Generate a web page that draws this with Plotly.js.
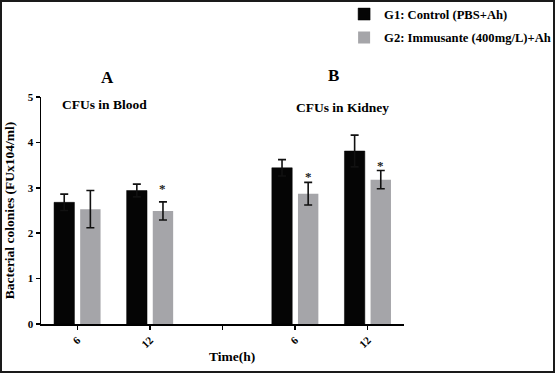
<!DOCTYPE html>
<html>
<head>
<meta charset="utf-8">
<script src="https://cdn.plot.ly/plotly-3.0.1.min.js"></script>
<style>
  html, body { margin: 0; padding: 0; background: #fff; }
  #wrap { width: 555px; height: 373px; box-sizing: border-box; border: 2px solid #1a1a1a; }
  #chart { width: 551px; height: 369px; }
</style>
</head>
<body>
<div id="wrap"><div id="chart"></div></div>
<script>
// Category positions (0,1 = Blood 6h,12h; 2 = spacer; 3,4 = Kidney 6h,12h)
const positions = [0, 1, 3, 4];
const tickPositions = [0, 1, 2, 3, 4];
const tickLabels = ['6', '12', '', '6', '12'];

const g1Name = 'G1: Control (PBS+Ah)';
const g1Values = [2.68, 2.94, 3.44, 3.81];
const g1Errors = [0.18, 0.14, 0.18, 0.35];

const g2Name = 'G2: Immusante (400mg/L)+Ah';
const g2Values = [2.53, 2.49, 2.87, 3.18];
const g2Errors = [0.41, 0.20, 0.25, 0.20];

// Significance markers ("*") on G2 bars, with the height they are drawn at
const g2Significant = [false, true, true, true];
const g2StarHeights = [null, 3.05, 3.31, 3.55];

const panelLabels = ['A', 'B'];
const panelTitles = ['CFUs in Blood', 'CFUs in Kidney'];

const FONT = 'Liberation Serif, Times New Roman, serif';

const traces = [
  {
    type: 'bar', name: g1Name, legendgroup: 'g1',
    x: positions, y: g1Values,
    marker: { color: '#050505', line: { color: '#000', width: 0.5 } },
    error_y: { type: 'data', array: g1Errors, symmetric: true, color: '#111', thickness: 1.6, width: 4 },
    hoverinfo: 'none'
  },
  {
    type: 'bar', name: g2Name, legendgroup: 'g2',
    x: positions, y: g2Values,
    marker: { color: '#a5a5a9', line: { width: 0 } },
    error_y: { type: 'data', array: g2Errors, symmetric: true, color: '#111', thickness: 1.6, width: 4 },
    hoverinfo: 'none'
  }
];

const annotations = [];
// significance asterisks above G2 error bars
g2Significant.forEach((sig, i) => {
  if (sig) {
    annotations.push({
      x: positions[i], y: g2StarHeights[i], xref: 'x', yref: 'y',
      text: '*', showarrow: false, xanchor: 'center', yanchor: 'middle',
      xshift: 13, yshift: -3,
      font: { family: FONT, size: 13, color: '#222', weight: 'bold' }
    });
  }
});
// panel letters and titles
annotations.push(
  { text: panelLabels[0], x: 0.182, y: 1.088, xref: 'paper', yref: 'paper', showarrow: false,
    xanchor: 'center', yanchor: 'middle', font: { family: FONT, size: 17, color: '#000', weight: 'bold' } },
  { text: panelLabels[1], x: 0.807, y: 1.093, xref: 'paper', yref: 'paper', showarrow: false,
    xanchor: 'center', yanchor: 'middle', font: { family: FONT, size: 17, color: '#000', weight: 'bold' } },
  { text: panelTitles[0], x: 0.052, y: 0.969, xref: 'paper', yref: 'paper', showarrow: false,
    xanchor: 'left', yanchor: 'middle', font: { family: FONT, size: 13.5, color: '#000', weight: 'bold' } },
  { text: panelTitles[1], x: 0.697, y: 0.952, xref: 'paper', yref: 'paper', showarrow: false,
    xanchor: 'left', yanchor: 'middle', font: { family: FONT, size: 13.5, color: '#000', weight: 'bold' } },
  { text: 'Time(h)', x: 0.526, y: -0.141, xref: 'paper', yref: 'paper', showarrow: false,
    xanchor: 'center', yanchor: 'middle', font: { family: FONT, size: 13.5, color: '#000', weight: 'bold' } }
);

const layout = {
  width: 551, height: 369,
  margin: { l: 39, r: 149, t: 95, b: 47, pad: 0, autoexpand: false },
  paper_bgcolor: '#fff', plot_bgcolor: '#fff',
  font: { family: FONT, color: '#000', weight: 'bold' },
  barmode: 'group', bargap: 0.28, bargroupgap: 0.22,
  showlegend: true,
  legend: {
    x: 0.835, y: 1.43, xanchor: 'left', yanchor: 'top',
    font: { family: FONT, size: 12.6, color: '#000', weight: 'bold' },
    traceorder: 'grouped', tracegroupgap: 4,
    bgcolor: 'rgba(0,0,0,0)', borderwidth: 0
  },
  xaxis: {
    range: [-0.5, 4.5], tickmode: 'array', tickvals: tickPositions, ticktext: tickLabels,
    tickangle: -45, showgrid: false, zeroline: false,
    showline: true, linecolor: '#000', linewidth: 1.5,
    ticks: 'outside', ticklen: 4, tickwidth: 1.5, tickcolor: '#000',
    tickfont: { family: FONT, size: 11, color: '#000', weight: 'bold' },
    fixedrange: true
  },
  yaxis: {
    range: [0, 5], tickvals: [0, 1, 2, 3, 4, 5], showgrid: false, zeroline: false,
    showline: true, linecolor: '#000', linewidth: 1.5,
    ticks: 'outside', ticklen: 4, tickwidth: 1.5, tickcolor: '#000',
    tickfont: { family: FONT, size: 11, color: '#000', weight: 'bold' },
    title: { text: 'Bacterial colonies (FUx104/ml)', standoff: 10,
             font: { family: FONT, size: 13.5, color: '#000', weight: 'bold' } },
    fixedrange: true
  },
  annotations: annotations
};

Plotly.newPlot('chart', traces, layout, { displayModeBar: false, staticPlot: true });
</script>
</body>
</html>
